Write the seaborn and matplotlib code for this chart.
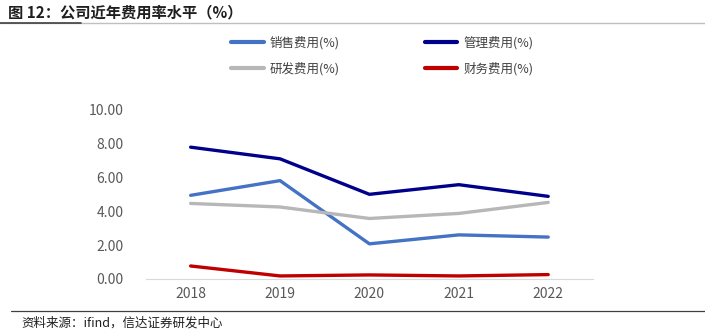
import matplotlib
matplotlib.use("Agg")
import matplotlib.pyplot as plt
import seaborn as sns
import pandas as pd
from matplotlib.lines import Line2D

years = ["2018", "2019", "2020", "2021", "2022"]
sales = [4.95, 5.82, 2.08, 2.61, 2.48]
admin = [7.80, 7.11, 5.01, 5.58, 4.89]
rnd = [4.47, 4.26, 3.58, 3.88, 4.53]
fin = [0.77, 0.18, 0.24, 0.18, 0.26]
names = ["销售费用(%)", "管理费用(%)", "研发费用(%)", "财务费用(%)"]
yticks = [0, 2, 4, 6, 8, 10]

sns.set_theme(style="white")
plt.rcParams['font.family'] = ['Noto Sans CJK SC', 'DejaVu Sans']

rows = []
for name, vals in zip(names, [sales, admin, rnd, fin]):
    for y, v in zip(years, vals):
        rows.append({"year": y, "value": v, "series": name})
df = pd.DataFrame(rows)

colors = {names[0]: "#4472C4", names[1]: "#00008B", names[2]: "#B7B7B7", names[3]: "#C00000"}

fig = plt.figure(figsize=(7.05, 3.34), dpi=100)
ax = fig.add_axes([0.207, 0.1647, 0.634, 0.506])
sns.lineplot(data=df, x="year", y="value", hue="series", palette=colors,
             linewidth=2.4, ax=ax, legend=False, sort=False)
ax.set_xlim(-0.5, 4.5)
ax.set_ylim(0, 10)
ax.set_yticks(yticks)
ax.set_yticklabels([f"{t:.2f}" for t in yticks])
ax.set_xlabel("")
ax.set_ylabel("")
for s in ["top", "right", "left"]:
    ax.spines[s].set_visible(False)
ax.spines["bottom"].set_color("#D9D9D9")
ax.spines["bottom"].set_linewidth(0.8)
ax.tick_params(axis="both", length=0, labelsize=10, colors="#595959", pad=6)
ax.tick_params(axis="y", pad=16)
ax.grid(False)

order = [names[0], names[2], names[1], names[3]]
handles = [Line2D([0], [0], color=colors[n], linewidth=3) for n in order]
fig.legend(handles, order, ncol=2, loc="upper left", bbox_to_anchor=(0.312, 0.925),
           frameon=False, fontsize=9, handlelength=2.6, handletextpad=0.5,
           columnspacing=6.8, labelspacing=1.0, labelcolor="#404040")

# title and decorative lines
fig.text(0.012, 0.963, "图 12：公司近年费用率水平（%）", fontsize=11, fontweight="bold",
         color="#1F1F1F", va="center", ha="left")
fig.add_artist(Line2D([0, 1], [0.932, 0.932], color="#BFBFBF", linewidth=1.0, transform=fig.transFigure))
fig.add_artist(Line2D([0, 0.115], [0.932, 0.932], color="#404040", linewidth=1.2, transform=fig.transFigure))
fig.add_artist(Line2D([0.015, 1], [0.068, 0.068], color="#404040", linewidth=0.9, transform=fig.transFigure))
fig.text(0.03, 0.033, "资料来源：ifind，信达证券研发中心", fontsize=9, style="italic",
         color="#1F1F1F", va="center", ha="left")

fig.savefig("out.png", dpi=100)
